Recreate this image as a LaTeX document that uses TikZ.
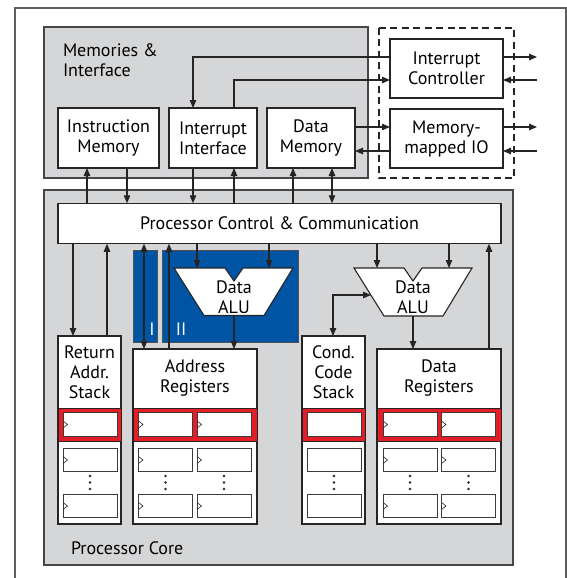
\documentclass[tikz,border=0pt]{standalone}
\usepackage{fontspec}
\setmainfont{PT Sans}
\usetikzlibrary{arrows.meta}
\definecolor{panel}{RGB}{213,214,216}
\definecolor{alublue}{RGB}{0,84,164}
\definecolor{regred}{RGB}{228,30,38}
\definecolor{ink}{RGB}{38,36,37}
\definecolor{framegray}{RGB}{95,95,95}

\begin{document}
\begin{tikzpicture}[x=1pt,y=-1pt,
  font=\fontsize{18}{20}\selectfont,
  every node/.style={inner sep=0pt, outer sep=0pt},
  panelbox/.style={draw=ink!85, line width=1.3pt, fill=panel},
  unit/.style={draw=ink, line width=1.2pt, fill=white, align=center},
  regbox/.style={draw=ink, line width=1.2pt, fill=white},
  cell/.style={draw=ink!90, line width=1pt, fill=white, minimum width=54pt, minimum height=23.5pt},
  clock/.style={draw=ink, line width=0.6pt},
  redband/.style={draw=ink, line width=0.8pt, fill=regred},
  bluebox/.style={draw=ink!80, line width=1pt, fill=alublue},
  alushape/.style={draw=ink, line width=1.1pt, fill=white, line join=miter},
  conn/.style={draw=ink, line width=1.1pt, -{Triangle[length=8pt,width=6.5pt]}},
  both/.style={draw=ink, line width=1.1pt, {Triangle[length=8pt,width=6.5pt]}-{Triangle[length=8pt,width=6.5pt]}},
  lbl/.style={align=center}
]
\useasboundingbox (0,0) rectangle (567,578);

% outer frame, open at the bottom
\draw[framegray, line width=1.3pt] (15,578) -- (15,8) -- (566,8) -- (566,578);

% the two grey panels and the dashed peripheral area
\draw[panelbox] (44,27) rectangle (368,178);
\draw[panelbox] (44,190) rectangle (513,565);
\draw[ink, line width=1.1pt, dash pattern=on 7pt off 4.5pt] (379,28) rectangle (514,178);

\node[anchor=west, align=left] (memlabel) at (63,60) {Memories \&\\Interface};
\node[anchor=west] (corelabel) at (71,548) {Processor Core};

% memories and interface units
\node[unit, minimum width=101pt, minimum height=60pt] (im) at (108.5,138) {Instruction\\Memory};
\node[unit, minimum width=88pt, minimum height=60pt] (ii) at (213,138) {Interrupt\\Interface};
\node[unit, minimum width=88pt, minimum height=60pt] (dm) at (311,138) {Data\\Memory};
\node[unit, minimum width=113pt, minimum height=59pt] (ic) at (446.5,68.5) {Interrupt\\Controller};
\node[unit, minimum width=113pt, minimum height=59pt] (mmio) at (446.5,138.5) {Memory-\\mapped IO};

% external ports
\coordinate (icout) at (537,57);
\coordinate (icin) at (537,80);
\coordinate (ioout) at (537,127);
\coordinate (ioin) at (537,151);

% control block
\node[unit, minimum width=443pt, minimum height=40.5pt] (pcc) at (279.5,223.5) {Processor Control \& Communication};

% address unit background (two address ALUs)
\node[bluebox, minimum width=24pt, minimum height=92pt] (blueI) at (145,296) {};
\node[bluebox, minimum width=136pt, minimum height=92pt] (blueII) at (230,296) {};
\node[text=white] (tagI) at (152,329) {I};
\node[text=white] (tagII) at (181,329) {II};

% address data ALU
\draw[alushape] (174,268) -- (225,268) -- (234,281) -- (243,268) -- (293,268) -- (264,315.5) -- (204,315.5) -- cycle;
\node[lbl] (aluA) at (234,297.5) {Data\\ALU};
\coordinate (aluA-in1) at (197,268);
\coordinate (aluA-in2) at (269,268);
\coordinate (aluA-out) at (234,315.5);

% data ALU
\draw[alushape] (354,268) -- (404,268) -- (413,281) -- (422,268) -- (472,268) -- (443,316) -- (384,316) -- cycle;
\node[lbl] (aluB) at (413,297.5) {Data\\ALU};
\coordinate (aluB-in1) at (377,268);
\coordinate (aluB-in2) at (449,268);
\coordinate (aluB-out) at (413,316);
\coordinate (aluB-side) at (371,295);

% register files
\node[regbox, minimum width=63pt, minimum height=188pt] (ras) at (89.5,430) {};
\node[regbox, minimum width=124pt, minimum height=175pt] (ar) at (195,436.5) {};
\node[regbox, minimum width=63pt, minimum height=188pt] (ccs) at (333.5,430) {};
\node[regbox, minimum width=124pt, minimum height=175pt] (dr) at (439,436.5) {};

\node[lbl] (rasL) at (89.5,372) {Return\\Addr.\\Stack};
\node[lbl] (arL) at (195,378.5) {Address\\Registers};
\node[lbl] (ccsL) at (333.5,372) {Cond.\\Code\\Stack};
\node[lbl] (drL) at (439,378.5) {Data\\Registers};

\foreach \b in {ras,ar,ccs,dr}
  \draw[redband] (\b.west |- 0,408) rectangle (\b.east |- 0,441);

\foreach \nm/\cx/\clk in {ras/90/1, arA/165.5/1, arB/224/1, ccs/334/0, drA/410/1, drB/468.5/1} {
  \foreach \rw/\cy in {1/424.5, 2/460, 3/506} {
    \node[cell] (cell-\nm-\rw) at (\cx,\cy) {};
    \ifnum\clk=1
      \draw[clock] ([yshift=3.5pt]cell-\nm-\rw.west) -- ++(4.5,3.5) -- ++(-4.5,3.5);
    \fi
  }
  \foreach \dy in {476,482.5,489}
    \fill[ink] (\cx,\dy) circle (1.4pt);
}

% interrupt and I/O wiring
\draw[conn] (ic.west |- 0,57) -| (ii.north -| 193,0);
\draw[conn] (ii.north -| 234,0) |- (ic.west |- 0,80);
\draw[conn] (dm.east |- 0,127) -- (mmio.west |- 0,127);
\draw[conn] (mmio.west |- 0,151) -- (dm.east |- 0,151);
\draw[conn] (ic.east |- icout) -- (icout);
\draw[conn] (icin) -- (ic.east |- icin);
\draw[conn] (mmio.east |- ioout) -- (ioout);
\draw[conn] (ioin) -- (mmio.east |- ioin);

% memories <-> control
\draw[conn] (pcc.north -| 87,0) -- (im.south -| 87,0);
\draw[conn] (im.south -| 127,0) -- (pcc.north -| 127,0);
\draw[conn] (ii.south -| 193,0) -- (pcc.north -| 193,0);
\draw[conn] (pcc.north -| 234,0) -- (ii.south -| 234,0);
\draw[conn] (pcc.north -| 293,0) -- (dm.south -| 293,0);
\draw[both] (pcc.north -| 332,0) -- (dm.south -| 332,0);

% control <-> core
\draw[conn] (pcc.south -| 73,0) -- (ras.north -| 73,0);
\draw[conn] (ras.north -| 107,0) -- (pcc.south -| 107,0);
\draw[both] (pcc.south -| 144,0) -- (ar.north -| 144,0);
\draw[conn] (ar.north -| 169,0) -- (pcc.south -| 169,0);
\draw[conn] (pcc.south -| aluA-in1) -- (aluA-in1);
\draw[conn] (pcc.south -| aluA-in2) -- (aluA-in2);
\draw[conn] (aluA-out) -- (ar.north -| aluA-out);
\draw[conn] (pcc.south -| aluB-in1) -- (aluB-in1);
\draw[conn] (pcc.south -| aluB-in2) -- (aluB-in2);
\draw[conn] (aluB-out) -- (dr.north -| aluB-out);
\draw[conn] (dr.north -| 489,0) -- (pcc.south -| 489,0);
\draw[both] (ccs.north -| 333,0) |- (aluB-side);
\end{tikzpicture}
\end{document}
